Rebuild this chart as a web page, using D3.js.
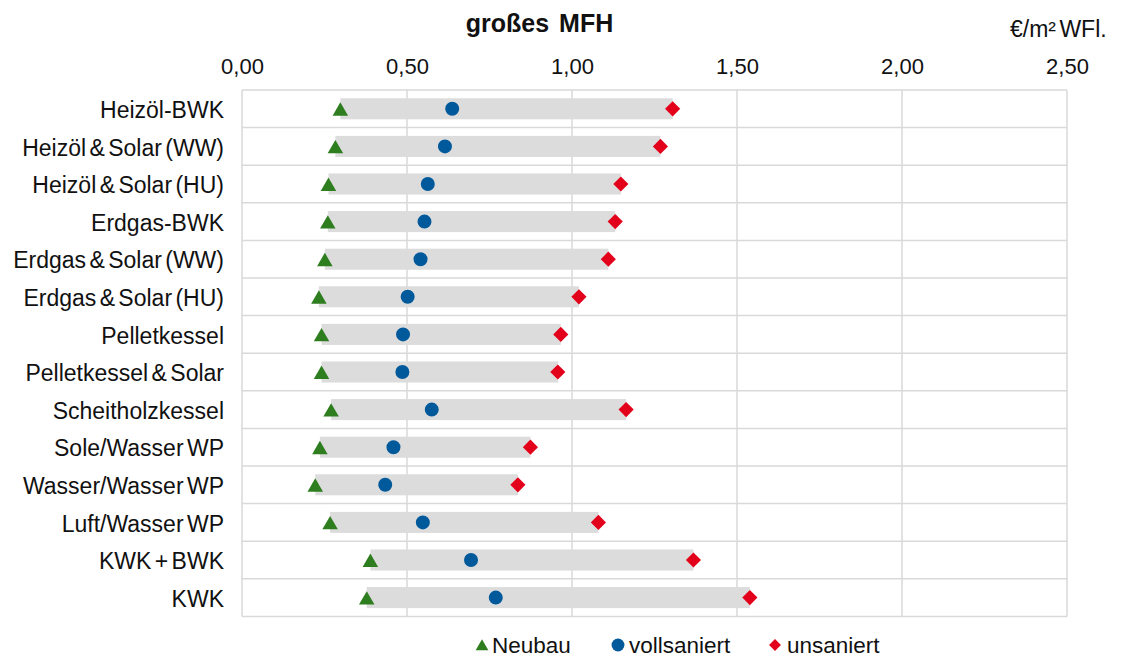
<!DOCTYPE html>
<html>
<head>
<meta charset="utf-8">
<script src="https://cdn.jsdelivr.net/npm/d3@7/dist/d3.min.js"></script>
<style>
  html, body { margin: 0; padding: 0; background: #fff; }
  svg { display: block; font-family: "Liberation Sans", Arial, sans-serif; }
</style>
</head>
<body>
<svg id="chart" width="1125" height="657"></svg>
<script>
// Heating system variants (rows, top to bottom)
const categories = [
  "Heizöl-BWK",
  "Heizöl & Solar (WW)",
  "Heizöl & Solar (HU)",
  "Erdgas-BWK",
  "Erdgas & Solar (WW)",
  "Erdgas & Solar (HU)",
  "Pelletkessel",
  "Pelletkessel & Solar",
  "Scheitholzkessel",
  "Sole/Wasser WP",
  "Wasser/Wasser WP",
  "Luft/Wasser WP",
  "KWK + BWK",
  "KWK"
];

// Costs in €/m² WFl. per building state
const neubau      = [0.298, 0.283, 0.262, 0.260, 0.251, 0.233, 0.241, 0.241, 0.270, 0.236, 0.222, 0.267, 0.389, 0.378];
const vollsaniert = [0.637, 0.615, 0.563, 0.553, 0.541, 0.502, 0.488, 0.486, 0.575, 0.459, 0.434, 0.548, 0.694, 0.769];
const unsaniert   = [1.305, 1.268, 1.148, 1.131, 1.110, 1.021, 0.966, 0.957, 1.164, 0.874, 0.836, 1.080, 1.368, 1.539];

const tickValues = [0, 0.5, 1.0, 1.5, 2.0, 2.5];
const seriesNames = ["Neubau", "vollsaniert", "unsaniert"];

const title = "großes MFH";
const unitLabel = "€/m² WFl.";

const COLORS = { neubau: "#2e7d1f", voll: "#00599a", un: "#e3001b", bar: "#dcdcdc", grid: "#d9d9d9", text: "#111" };

const svg = d3.select("#chart");
const plotLeft = 242, plotRight = 1067, plotTop = 90, plotBottom = 616.4;

const x = d3.scaleLinear().domain([0, 2.5]).range([plotLeft, plotRight]);
const y = d3.scaleBand().domain(categories).range([plotTop, plotBottom]).padding(0);

const rows = categories.map((c, i) => ({ c, n: neubau[i], v: vollsaniert[i], u: unsaniert[i] }));

// grid: vertical lines at ticks, horizontal lines at row boundaries
const grid = svg.append("g").attr("stroke", COLORS.grid).attr("stroke-width", 1.5);
grid.selectAll("line.v").data(tickValues).join("line")
  .attr("class", "v")
  .attr("x1", d => x(d)).attr("x2", d => x(d))
  .attr("y1", plotTop).attr("y2", plotBottom);
const bounds = categories.map(c => y(c)).concat([y(categories[categories.length - 1]) + y.bandwidth()]);
grid.selectAll("line.h").data(bounds).join("line")
  .attr("class", "h")
  .attr("x1", plotLeft).attr("x2", plotRight)
  .attr("y1", d => d).attr("y2", d => d);

// range bars from Neubau to unsaniert
const barH = y.bandwidth() * 0.56;
svg.append("g").selectAll("rect").data(rows).join("rect")
  .attr("x", d => x(d.n))
  .attr("width", d => x(d.u) - x(d.n))
  .attr("y", d => y(d.c) + (y.bandwidth() - barH) / 2)
  .attr("height", barH)
  .attr("fill", COLORS.bar);

const cy = d => y(d.c) + y.bandwidth() / 2;

// markers
const tri = d3.symbol().type(d3.symbolTriangle).size(104);
const circ = d3.symbol().type(d3.symbolCircle).size(154);
const dia = d3.symbol().type(d3.symbolSquare).size(115);

svg.append("g").selectAll("path").data(rows).join("path")
  .attr("d", tri)
  .attr("transform", d => `translate(${x(d.n)},${cy(d) + 2.5})`)
  .attr("fill", COLORS.neubau);
svg.append("g").selectAll("path").data(rows).join("path")
  .attr("d", circ)
  .attr("transform", d => `translate(${x(d.v)},${cy(d)})`)
  .attr("fill", COLORS.voll);
svg.append("g").selectAll("path").data(rows).join("path")
  .attr("d", dia)
  .attr("transform", d => `translate(${x(d.u)},${cy(d)}) rotate(45)`)
  .attr("fill", COLORS.un);

// top value axis
const fmt = d3.format(".2f");
const xAxis = d3.axisTop(x).tickValues(tickValues).tickSize(0).tickPadding(16)
  .tickFormat(d => fmt(d).replace(".", ","));
const gx = svg.append("g").attr("transform", `translate(0,${plotTop})`).call(xAxis);
gx.select(".domain").remove();
gx.selectAll("text").attr("font-size", 22).attr("fill", COLORS.text)
  .attr("font-family", "Liberation Sans, Arial, sans-serif");

// category axis
const yAxis = d3.axisLeft(y).tickSize(0).tickPadding(18);
const gy = svg.append("g").attr("transform", `translate(${plotLeft},0)`).call(yAxis);
gy.select(".domain").remove();
gy.selectAll("text").attr("font-size", 23).attr("fill", COLORS.text).attr("dy", "0.40em")
  .attr("word-spacing", -3)
  .attr("font-family", "Liberation Sans, Arial, sans-serif");

// title and unit
svg.append("text").attr("x", 539.5).attr("y", 32).attr("text-anchor", "middle")
  .attr("font-size", 25).attr("font-weight", "bold").attr("fill", COLORS.text)
  .attr("word-spacing", 3)
  .text(title);
svg.append("text").attr("x", 1010).attr("y", 37)
  .attr("font-size", 23).attr("fill", COLORS.text).attr("word-spacing", -3)
  .text(unitLabel);

// legend
const legend = svg.append("g");
const legendItems = [
  { name: seriesNames[0], sym: d3.symbol().type(d3.symbolTriangle).size(70), color: COLORS.neubau, mx: 482, tx: 492, rot: 0, dy: 1.5 },
  { name: seriesNames[1], sym: d3.symbol().type(d3.symbolCircle).size(130), color: COLORS.voll, mx: 618, tx: 629, rot: 0, dy: 0 },
  { name: seriesNames[2], sym: d3.symbol().type(d3.symbolSquare).size(70), color: COLORS.un, mx: 775, tx: 787, rot: 45, dy: 0 }
];
const ly = 645;
legendItems.forEach(it => {
  legend.append("path").attr("d", it.sym())
    .attr("transform", `translate(${it.mx},${ly + it.dy}) rotate(${it.rot})`)
    .attr("fill", it.color);
  legend.append("text").attr("x", it.tx).attr("y", ly + 7.5)
    .attr("font-size", 22.5).attr("fill", COLORS.text).text(it.name);
});
</script>
</body>
</html>
